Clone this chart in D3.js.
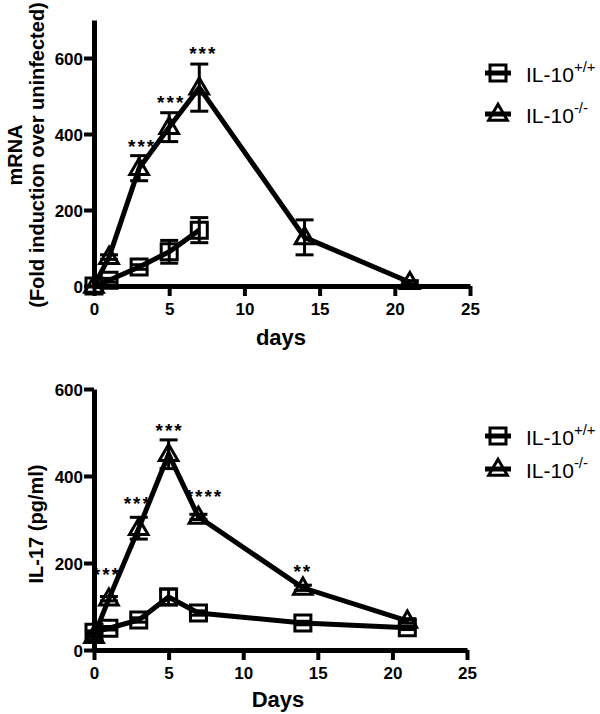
<!DOCTYPE html>
<html><head><meta charset="utf-8">
<script src="https://cdn.jsdelivr.net/npm/d3@7"></script>
<style>
body{margin:0;background:#fff;}
svg text{font-family:"Liberation Sans",Arial,sans-serif;}
</style></head>
<body><svg id="c" width="600" height="714"></svg>
<script>
// ---- Panel A: mRNA fold induction ----
const daysA_wt = [0, 1, 3, 5, 7];
const mrna_wt = [0, 15, 50, 90, 147];
const mrna_wt_err = [0, 5, 6, 30, 33];
const daysA_ko = [0, 1, 3, 5, 7, 14, 21];
const mrna_ko = [0, 76, 310, 418, 522, 128, 10];
const mrna_ko_err = [0, 6, 33, 38, 62, 46, 4];
const sigA = [{day: 3, label: "***"}, {day: 5, label: "***"}, {day: 7, label: "***"}];
const sigA_y = [379, 495, 624];

// ---- Panel B: IL-17 pg/ml ----
const daysB = [0, 1, 3, 5, 7, 14, 21];
const il17_wt = [41, 50, 69, 122, 85, 62, 51];
const il17_wt_err = [3, 4, 5, 18, 5, 4, 4];
const il17_ko = [32, 118, 280, 450, 306, 143, 67];
const il17_ko_err = [3, 5, 25, 33, 6, 6, 5];
const sigB = [{day: 1, label: "***"}, {day: 3, label: "***"}, {day: 5, label: "***"}, {day: 7, label: "****"}, {day: 14, label: "**"}];
const sigB_y = [184, 347, 515, 365, 191];

const xTicks = [0, 5, 10, 15, 20, 25];
const yTicks = [0, 200, 400, 600];
const legendLabels = [{base: "IL-10", sup: "+/+"}, {base: "IL-10", sup: "-/-"}];

const svg = d3.select("#c");

function panel(o) {
  const g = svg.append("g");
  const x = d3.scaleLinear().domain([0, 25]).range([94, o.xr]);
  const y = d3.scaleLinear().domain(o.ydom).range([o.y0, o.ytop]);

  // axes
  const xa = g.append("g").attr("transform", `translate(0,${o.y0})`)
    .call(d3.axisBottom(x).tickValues(xTicks).tickSize(10).tickSizeOuter(0).tickPadding(4));
  const ya = g.append("g").attr("transform", `translate(94,0)`)
    .call(d3.axisLeft(y).tickValues(yTicks).tickSize(10).tickSizeOuter(0).tickPadding(1));
  [xa, ya].forEach(a => {
    a.select(".domain").attr("stroke", "#000").attr("stroke-width", 5);
    a.selectAll(".tick line").attr("stroke", "#000").attr("stroke-width", 4);
    a.selectAll(".tick text").attr("fill", "#000").attr("font-size", 17).attr("font-weight", "bold");
  });
  xa.selectAll(".tick text").attr("dy", "0.9em");
  ya.selectAll(".tick text").attr("dy", "0.36em");

  // axis titles
  g.append("text").attr("x", o.xlabX).attr("y", o.xlabY).attr("text-anchor", "middle")
    .attr("font-size", 22).attr("font-weight", "bold").text(o.xlab);
  o.ylab.forEach((t, i) => {
    g.append("text").attr("transform", `translate(${o.ylabX[i]},${o.ylabC}) rotate(-90)`)
      .attr("text-anchor", "middle").attr("font-size", 20).attr("font-weight", "bold").text(t);
  });

  const line = d3.line().x(d => x(d[0])).y(d => y(d[1]));
  const series = [
    {days: o.wtDays, v: o.wt, e: o.wtErr, sym: d3.symbolSquare, size: 256},
    {days: o.koDays, v: o.ko, e: o.koErr, sym: d3.symbolTriangle, size: 150}
  ];
  series.forEach(s => {
    const pts = s.days.map((d, i) => [d, s.v[i], s.e[i]]);
    // error bars
    const eb = g.append("g").attr("stroke", "#000").attr("stroke-width", 3);
    pts.forEach(p => {
      if (p[2] <= 0) return;
      eb.append("line").attr("x1", x(p[0])).attr("x2", x(p[0])).attr("y1", y(p[1] - p[2])).attr("y2", y(p[1] + p[2]));
      [p[1] - p[2], p[1] + p[2]].forEach(v => {
        eb.append("line").attr("x1", x(p[0]) - 9).attr("x2", x(p[0]) + 9).attr("y1", y(v)).attr("y2", y(v));
      });
    });
    g.append("path").datum(pts).attr("d", line).attr("fill", "none").attr("stroke", "#000").attr("stroke-width", 5);
    g.selectAll(null).data(pts).enter().append("path")
      .attr("d", d3.symbol().type(s.sym).size(s.size))
      .attr("transform", d => `translate(${x(d[0])},${y(d[1]) + (s.sym === d3.symbolTriangle ? 1 : 0)})`)
      .attr("fill", "none").attr("stroke", "#000").attr("stroke-width", 3);
  });

  // significance labels (value = vertical centre of the asterisks)
  o.sig.forEach((s, i) => {
    g.append("text").attr("x", x(s.day) + (o.sigDx[i] || 0)).attr("y", y(o.sigY[i])).attr("text-anchor", "middle")
      .attr("font-size", 19).attr("letter-spacing", 2).attr("font-weight", "bold").attr("dy", "0.6em").text(s.label);
  });

  // legend
  const syms = [d3.symbolSquare, d3.symbolTriangle];
  o.legY.forEach((ly, i) => {
    g.append("line").attr("x1", 485).attr("x2", 511).attr("y1", ly).attr("y2", ly).attr("stroke", "#000").attr("stroke-width", 5);
    g.append("path").attr("d", d3.symbol().type(syms[i]).size(i ? 150 : 256)())
      .attr("transform", `translate(498,${ly + (i ? 1 : 0)})`).attr("fill", "none").attr("stroke", "#000").attr("stroke-width", 3);
    const t = g.append("text").attr("x", 526).attr("y", ly + 9).attr("font-size", 21).attr("fill", "#000");
    t.append("tspan").text(legendLabels[i].base);
    t.append("tspan").attr("font-size", 15).attr("dy", -10).text(legendLabels[i].sup);
  });
}

panel({
  xr: 470, ydom: [0, 700], y0: 286, ytop: 20,
  xlab: "days", xlabX: 281, xlabY: 345, ylab: ["mRNA", "(Fold induction over uninfected)"], ylabX: [22, 44], ylabC: 155,
  wtDays: daysA_wt, wt: mrna_wt, wtErr: mrna_wt_err, koDays: daysA_ko, ko: mrna_ko, koErr: mrna_ko_err,
  sig: sigA, sigY: sigA_y, sigDx: [3, 2, 4], legY: [73, 114]
});
panel({
  xr: 467, ydom: [0, 600], y0: 650, ytop: 389,
  xlab: "Days", xlabX: 278, xlabY: 707, ylab: ["IL-17 (pg/ml)"], ylabX: [43], ylabC: 524,
  wtDays: daysB, wt: il17_wt, wtErr: il17_wt_err, koDays: daysB, ko: il17_ko, koErr: il17_ko_err,
  sig: sigB, sigY: sigB_y, sigDx: [-2, -1, 1, 6, 0], legY: [436, 469]
});
</script></body></html>
